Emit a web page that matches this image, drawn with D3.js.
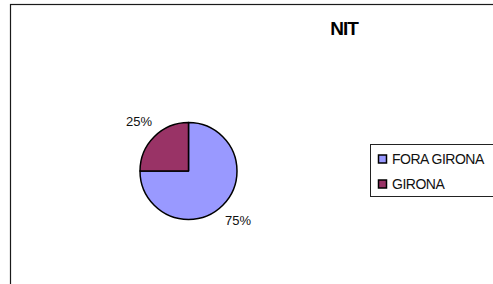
<html>
<head>
<script src="https://d3js.org/d3.v7.min.js"></script>
<style>
body { margin: 0; background: #fff; }
</style>
</head>
<body>
<script type="text/javascript">
    // data
    var categories = ["FORA GIRONA", "GIRONA"];
    var values = [75, 25];
    var colors = ["#9999FF", "#993366"];
    var title = "NIT";

    var svg = d3.select("body")
        .append("svg")
        .attr("width", 493)
        .attr("height", 284);

    // outer chart frame (runs off the right and bottom)
    svg.append("rect")
       .attr("x", 10.5)
       .attr("y", 4.5)
       .attr("width", 600)
       .attr("height", 400)
       .attr("fill", "white")
       .attr("stroke", "#1a1a1a")
       .attr("stroke-width", 1.2);

    svg.append("text")
       .attr("x", 344)
       .attr("y", 35)
       .attr("text-anchor", "middle")
       .style("font-family", "Liberation Sans, Arial, sans-serif")
       .style("font-size", "19px")
       .style("font-weight", "bold")
       .style("letter-spacing", "-1px")
       .text(title);

    var cx = 188.5, cy = 171, radius = 48.5;

    var pie = d3.pie().sort(null).value(function(d, i) { return d; });
    var arcs = pie(values);
    var arc = d3.arc().innerRadius(0).outerRadius(radius);
    var labelArc = d3.arc().innerRadius(70).outerRadius(70);

    var g = svg.append("g")
       .attr("transform", "translate(" + cx + "," + cy + ")");

    g.selectAll("path")
       .data(arcs)
       .enter()
       .append("path")
       .attr("d", arc)
       .attr("fill", function(d, i) { return colors[i]; })
       .attr("stroke", "black")
       .attr("stroke-width", 1.5)
       .attr("stroke-linejoin", "round");

    var total = d3.sum(values);
    g.selectAll("text.pct")
       .data(arcs)
       .enter()
       .append("text")
       .attr("class", "pct")
       .attr("x", function(d) { return labelArc.centroid(d)[0]; })
       .attr("y", function(d) { return labelArc.centroid(d)[1] + 4.5; })
       .attr("text-anchor", "middle")
       .style("font-family", "Liberation Sans, Arial, sans-serif")
       .style("font-size", "13px")
       .style("fill", "#111")
       .text(function(d) { return Math.round(d.value / total * 100) + "%"; });

    // legend box
    svg.append("rect")
       .attr("x", 370.5)
       .attr("y", 144.5)
       .attr("width", 200)
       .attr("height", 52)
       .attr("fill", "white")
       .attr("stroke", "#222")
       .attr("stroke-width", 1);

    var legendY = d3.scalePoint().domain(categories).range([159, 184]);

    var leg = svg.selectAll("g.leg")
       .data(categories)
       .enter()
       .append("g")
       .attr("class", "leg")
       .attr("transform", function(d) { return "translate(378," + legendY(d) + ")"; });

    leg.append("rect")
       .attr("x", 0.5)
       .attr("y", -4)
       .attr("width", 8)
       .attr("height", 8)
       .attr("fill", function(d, i) { return colors[i]; })
       .attr("stroke", "black")
       .attr("stroke-width", 1.5);

    leg.append("text")
       .attr("x", 14)
       .attr("y", 5)
       .style("font-family", "Liberation Sans, Arial, sans-serif")
       .style("font-size", "14px")
       .style("letter-spacing", "-0.5px")
       .style("fill", "#111")
       .text(function(d) { return d; });
</script>
</body>
</html>
